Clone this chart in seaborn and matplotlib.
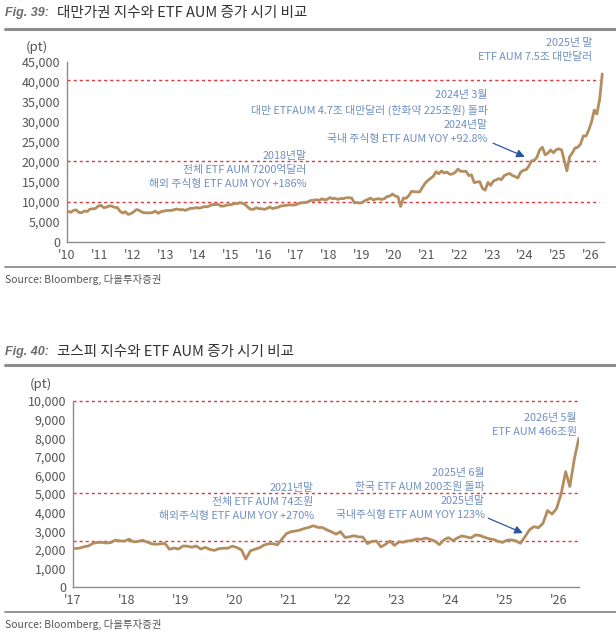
import pandas as pd
import matplotlib.pyplot as plt
from matplotlib.lines import Line2D
import seaborn as sns

# monthly index levels (mid-month points)
taiex = [7640, 7436, 7920, 8004, 7374, 7329, 7761, 7616, 8238, 8287, 8372, 8973,
         9145, 8600, 8683, 9008, 8988, 8653, 8644, 7741, 7225, 7588, 6904, 7072,
         7518, 8121, 7933, 7501, 7301, 7296, 7270, 7398, 7715, 7166, 7580, 7700,
         7850, 7880, 7918, 8093, 8254, 8062, 8107, 7914, 8173, 8450, 8406, 8612,
         8462, 8640, 8849, 8792, 9075, 9393, 9315, 9436, 8966, 8974, 9187, 9307,
         9361, 9622, 9586, 9820, 9701, 9323, 8665, 8175, 8181, 8554, 8320, 8338,
         8145, 8411, 8744, 8377, 8536, 8666, 8984, 9069, 9166, 9290, 9240, 9254,
         9448, 9750, 9812, 9872, 10040, 10395, 10427, 10585, 10384, 10794, 10560, 10643,
         11104, 10815, 10919, 10658, 10875, 10837, 11057, 11064, 10998, 9802, 9888, 9727,
         9932, 10389, 10641, 10968, 10498, 10731, 10824, 10619, 10830, 11358, 11490, 11997,
         11495, 11292, 8900, 10992, 10942, 11621, 12665, 12592, 12516, 12546, 13722, 14733,
         15410, 15953, 16431, 17567, 17068, 17755, 17247, 17490, 16935, 16987, 17428, 18219,
         17674, 17652, 17693, 16593, 16808, 14826, 15000, 15095, 13425, 12950, 14880, 14138,
         15266, 15504, 15868, 15579, 16579, 16916, 17145, 16634, 16353, 16001, 17433, 17931,
         18070, 18966, 20294, 20396, 21174, 23032, 23700, 21800, 22200, 23000, 22300, 23035,
         23300, 23000, 20500, 17800, 21300, 22300, 23500, 23700, 24500, 26500, 26500, 28000,
         30000, 33000, 32000, 35500, 42000]

kospi = [2067, 2091, 2160, 2205, 2347, 2392, 2402, 2363, 2394, 2523, 2476, 2467,
         2566, 2427, 2445, 2515, 2423, 2326, 2295, 2322, 2343, 2029, 2096, 2041,
         2204, 2195, 2140, 2203, 2041, 2130, 2024, 1967, 2063, 2083, 2087, 2197,
         2119, 1987, 1500, 1947, 2029, 2108, 2249, 2326, 2327, 2267, 2591, 2873,
         2976, 3012, 3061, 3147, 3203, 3296, 3202, 3199, 3068, 2970, 2839, 2977,
         2663, 2699, 2757, 2695, 2685, 2332, 2451, 2472, 2155, 2293, 2472, 2236,
         2425, 2412, 2476, 2501, 2577, 2564, 2632, 2556, 2465, 2277, 2535, 2655,
         2497, 2642, 2747, 2692, 2636, 2798, 2770, 2674, 2593, 2556, 2455, 2399,
         2517, 2532, 2481, 2350, 2697, 3071, 3245, 3186, 3425, 4107, 3926, 4214,
         5000, 6200, 5400, 6900, 8000]

taiex_refs = [40500, 20200, 9900]
kospi_refs = [10000, 5050, 2450]

taiex_notes = ["2025년 말\nETF AUM 7.5조 대만달러",
               "2024년 3월\n대만 ETFAUM 4.7조 대만달러 (한화약 225조원) 돌파\n2024년말\n국내 주식형 ETF AUM YOY +92.8%",
               "2018년말\n전체 ETF AUM 7200억달러\n해외 주식형 ETF AUM YOY +186%"]
kospi_notes = ["2026년 5월\nETF AUM 466조원",
               "2025년 6월\n한국 ETF AUM 200조원 돌파\n2025년말\n국내주식형 ETF AUM YOY 123%",
               "2021년말\n전체 ETF AUM 74조원\n해외주식형 ETF AUM YOY +270%"]

sns.set_style('white')
plt.rcParams['font.family'] = ['Noto Sans CJK KR', 'DejaVu Sans']

LINE = '#B38D5E'
RED = '#E5363B'
NOTE = '#6F8FC0'
ARROW = '#2C55A0'
W, H = 616, 637


def yr(v):
    y = int(v)
    return pd.Timestamp(y, 1, 1) + pd.Timedelta(days=(v - y) * 365.25)


def fx(px):
    return px / W


def fy(py):
    return 1 - py / H


fig = plt.figure(figsize=(W / 100, H / 100), dpi=100)


def header(ytitle, yrule, num, title, ypt, xpt):
    fig.text(fx(5), fy(ytitle), f'Fig. {num}:', family=['Liberation Sans', 'DejaVu Sans'],
             style='italic', weight='bold', color='#6b6b6b', fontsize=9, va='center')
    fig.text(fx(57), fy(ytitle), title, color='#333333', fontsize=10.5, va='center')
    fig.add_artist(Line2D([fx(5), 1], [fy(yrule), fy(yrule)], transform=fig.transFigure,
                          color='#8c8c8c', lw=2.2))
    fig.text(fx(xpt), fy(ypt), '(pt)', color='#555555', fontsize=9.5, ha='center', va='center')


def footer(yrule, ysrc):
    fig.add_artist(Line2D([fx(5), 1], [fy(yrule), fy(yrule)], transform=fig.transFigure,
                          color='#8c8c8c', lw=1.3))
    fig.text(fx(5), fy(ysrc), 'Source: Bloomberg, 다올투자증권', color='#555555',
             fontsize=7.5, va='center')


def style_axis(ax, start, end, first_year, last_year, ymax, ystep):
    ax.set_xlim(start, end)
    ax.set_ylim(0, ymax)
    ticks = [pd.Timestamp(y, 1, 1) for y in range(first_year, last_year + 1)]
    ax.set_xticks(ticks)
    ax.set_xticklabels([f"'{y % 100:02d}" for y in range(first_year, last_year + 1)])
    ax.set_yticks(range(0, ymax + 1, ystep))
    ax.set_yticklabels([f'{v:,}' for v in range(0, ymax + 1, ystep)])
    for s in ['top', 'right']:
        ax.spines[s].set_visible(False)
    for s in ['left', 'bottom']:
        ax.spines[s].set_color('#8c8c8c')
        ax.spines[s].set_linewidth(1.0)
    ax.tick_params(axis='both', direction='out', length=3, width=0.8, color='#8c8c8c',
                   labelcolor='#555555', labelsize=9, pad=2)
    ax.set_xlabel('')
    ax.set_ylabel('')


# ---- Fig. 39 : Taiwan ----
header(13, 29, 39, '대만가권 지수와 ETF AUM 증가 시기 비교', 47, 37)
ax1 = fig.add_axes([fx(67), fy(242), fx(604 - 67), (242 - 62) / H])
df1 = pd.DataFrame({'date': pd.date_range('2010-01-01', '2026-05-01', freq='MS') + pd.Timedelta(days=14),
                    'value': taiex})
for v in taiex_refs:
    ax1.axhline(v, xmax=0.99, color=RED, lw=1.0, ls=(0, (2.2, 2.2)), zorder=1)
sns.lineplot(data=df1, x='date', y='value', ax=ax1, color=LINE, lw=2.0, zorder=3)
style_axis(ax1, pd.Timestamp(2010, 1, 1), yr(2026.42), 2010, 2026, 45000, 5000)

ax1.text(yr(2026.05), 48000, taiex_notes[0], ha='right', va='center', color=NOTE,
         fontsize=7.8, linespacing=1.5, clip_on=False)
ax1.text(yr(2022.86), 31250, taiex_notes[1], ha='right', va='center', color=NOTE,
         fontsize=7.8, linespacing=1.5)
ax1.text(yr(2017.33), 18000, taiex_notes[2], ha='right', va='center', color=NOTE,
         fontsize=7.8, linespacing=1.5)
ax1.annotate('', xy=(yr(2024.0), 21300), xytext=(yr(2023.03), 24700),
             arrowprops=dict(arrowstyle='-|>', color=ARROW, lw=0.9, mutation_scale=12,
                             shrinkA=0, shrinkB=0))
footer(267, 279)

# ---- Fig. 40 : Korea ----
header(352, 365, 40, '코스피 지수와 ETF AUM 증가 시기 비교', 384, 41)
ax2 = fig.add_axes([fx(73), fy(587), fx(579 - 73), (587 - 401) / H])
df2 = pd.DataFrame({'date': pd.date_range('2017-01-01', '2026-05-01', freq='MS') + pd.Timedelta(days=14),
                    'value': kospi})
for v in kospi_refs:
    ax2.axhline(v, xmax=1.0, color=RED, lw=1.0, ls=(0, (2.2, 2.2)), zorder=1, clip_on=False)
sns.lineplot(data=df2, x='date', y='value', ax=ax2, color=LINE, lw=2.0, zorder=3)
style_axis(ax2, pd.Timestamp(2017, 1, 1), yr(2026.37), 2017, 2026, 10000, 1000)

ax2.text(yr(2026.33), 8710, kospi_notes[0], ha='right', va='center', color=NOTE,
         fontsize=7.8, linespacing=1.5)
ax2.text(yr(2024.63), 5000, kospi_notes[1], ha='right', va='center', color=NOTE,
         fontsize=7.8, linespacing=1.5)
ax2.text(yr(2021.46), 4570, kospi_notes[2], ha='right', va='center', color=NOTE,
         fontsize=7.8, linespacing=1.5)
ax2.annotate('', xy=(yr(2025.33), 2900), xytext=(yr(2024.69), 3700),
             arrowprops=dict(arrowstyle='-|>', color=ARROW, lw=0.9, mutation_scale=12,
                             shrinkA=0, shrinkB=0))
footer(612, 624)

plt.savefig('out.png', dpi=100)
